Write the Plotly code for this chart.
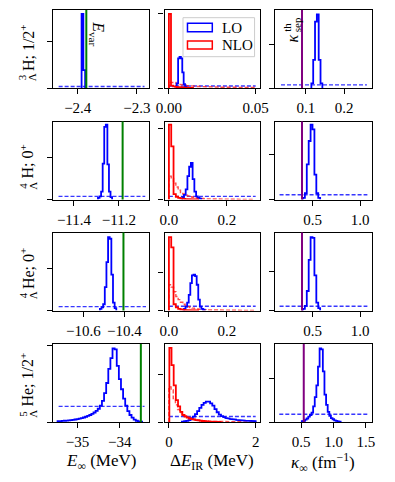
import plotly.graph_objects as go

W, H = 395, 482
FONT = "Liberation Serif"
BLUE = "#0000ff"
RED = "#ff0000"
GREEN = "#008000"
PURPLE = "#800080"
BLUE_D = "rgba(20,20,255,0.85)"
RED_D = "rgba(255,30,30,0.8)"

# ---------------- data ----------------
row_prescript = ["3", "4", "4", "5"]
row_nucleus = ["H; 1/2<sup>+</sup>", "H; 0<sup>+</sup>", "He; 0<sup>+</sup>", "He; 1/2<sup>+</sup>"]

# column 1: E_inf (MeV)
e_lo_start = [-2.3935, -11.293, -10.52, -35.47]
e_lo_width = [0.0030, 0.007, 0.008, 0.05]
e_lo_h = [
    [0.95, 0.23],
    [0.02, 0.04, 0.10, 0.46, 0.93, 0.96, 0.45, 0.10, 0.03],
    [0.02, 0.04, 0.08, 0.30, 0.62, 0.94, 0.92, 0.46, 0.10, 0.03],
    [0.010, 0.012, 0.014, 0.016, 0.018, 0.021, 0.024, 0.028, 0.032, 0.037,
     0.043, 0.050, 0.058, 0.067, 0.078, 0.090, 0.105, 0.122, 0.142, 0.170,
     0.210, 0.270, 0.370, 0.500, 0.680, 0.820, 0.945, 0.930, 0.720, 0.550,
     0.420, 0.300, 0.210, 0.140, 0.090, 0.055, 0.030, 0.016, 0.008, 0.004],
]
e_var = [-2.3855, -11.183, -10.405, -33.50]
e_prior_lo = [-2.4323, -11.469, -10.721, -35.445]
e_prior_hi = [-2.2871, -11.082, -10.295, -33.413]
e_prior_level = [0.02, 0.04, 0.05, 0.20]
e_ticks = [[-2.4, -2.3], [-11.4, -11.2], [-10.6, -10.4], [-35, -34]]
e_ticktext = [["\u22122.4", "\u22122.3"], ["\u221211.4", "\u221211.2"],
              ["\u221210.6", "\u221210.4"], ["\u221235", "\u221234"]]
e_range = [[-2.442, -2.279], [-11.494, -11.064], [-10.749, -10.279], [-35.58, -33.30]]

# column 2: Delta E_IR (MeV)
d_lo_start = [0.0045, 0.046, 0.052, 0.30]
d_lo_width = [0.0008, 0.006, 0.0055, 0.05]
d_lo_h = [
    [0.06, 0.38, 0.40, 0.38, 0.20, 0.05, 0.02],
    [0.03, 0.06, 0.13, 0.30, 0.42, 0.47, 0.26, 0.10, 0.04, 0.02, 0.01],
    [0.02, 0.05, 0.10, 0.20, 0.35, 0.45, 0.46, 0.44, 0.33, 0.14, 0.05, 0.02, 0.01],
    [0.005, 0.010, 0.015, 0.025, 0.045, 0.070, 0.100, 0.140, 0.180, 0.220,
     0.245, 0.260, 0.260, 0.240, 0.210, 0.165, 0.125, 0.095, 0.075, 0.062,
     0.052, 0.045, 0.040, 0.035, 0.031, 0.027, 0.023, 0.020, 0.018, 0.016,
     0.014, 0.013, 0.012, 0.011],
]
d_nlo_start = [0.0, 0.0, 0.0, 0.01]
d_nlo_width = [0.0012, 0.008, 0.008, 0.05]
d_nlo_h = [
    [0.95, 0.03, 0.02, 0.015, 0.012, 0.010, 0.008, 0.006, 0.005, 0.004, 0.003, 0.002],
    [0.96, 0.68, 0.07, 0.035, 0.020, 0.012, 0.008, 0.005, 0.004, 0.003, 0.002, 0.002, 0.001],
    [0.94, 0.81, 0.08, 0.040, 0.022, 0.013, 0.008, 0.005, 0.004, 0.003, 0.002, 0.002, 0.001],
    [0.95, 0.73, 0.47, 0.28, 0.20, 0.13, 0.09, 0.07, 0.055, 0.045, 0.038, 0.030,
     0.025, 0.020, 0.016, 0.013, 0.010, 0.008, 0.006, 0.005, 0.004, 0.003, 0.002, 0.002],
]
d_nlo_prior_width = [0.002, 0.008, 0.008, 0.05]
d_nlo_prior_h = [
    [0.07, 0.07, 0.055, 0.045, 0.038, 0.032, 0.027, 0.023, 0.020, 0.018, 0.016, 0.014,
     0.013, 0.012, 0.011, 0.010, 0.010, 0.009, 0.009, 0.008, 0.008, 0.008, 0.007, 0.007, 0.007],
    [0.30, 0.27, 0.21, 0.16, 0.12, 0.09, 0.07, 0.055, 0.045, 0.035, 0.028, 0.022,
     0.018, 0.015, 0.012, 0.010, 0.008, 0.007, 0.006, 0.005, 0.004, 0.004, 0.003,
     0.003, 0.002, 0.002, 0.002, 0.002, 0.001, 0.001, 0.001, 0.001, 0.001, 0.001,
     0.001, 0.001, 0.001],
    [0.33, 0.30, 0.24, 0.18, 0.14, 0.105, 0.08, 0.062, 0.048, 0.038, 0.030, 0.024,
     0.019, 0.015, 0.012, 0.010, 0.008, 0.007, 0.006, 0.005, 0.004, 0.004, 0.003,
     0.003, 0.002, 0.002, 0.002, 0.002, 0.001, 0.001, 0.001, 0.001, 0.001, 0.001,
     0.001, 0.001, 0.001],
    [0.45, 0.41, 0.30, 0.22, 0.16, 0.12, 0.10, 0.08, 0.065, 0.055, 0.045, 0.038,
     0.032, 0.027, 0.022, 0.018, 0.015, 0.012, 0.010, 0.008, 0.007, 0.006, 0.005,
     0.004, 0.004, 0.003, 0.003, 0.003, 0.002, 0.002, 0.002, 0.002, 0.001, 0.001,
     0.001, 0.001, 0.001, 0.001, 0.001, 0.001],
]
d_lo_prior_hi = [0.05, 0.30, 0.30, 2.0]
d_lo_prior_level = [0.025, 0.04, 0.055, 0.07]
d_ticks = [[0, 0.05], [0, 0.2], [0, 0.2], [0, 2]]
d_ticktext = [["0.00", "0.05"], ["0.0", "0.2"], ["0.0", "0.2"], ["0", "2"]]
d_range = [[-0.0025, 0.0525], [-0.015, 0.315], [-0.015, 0.315], [-0.1, 2.1]]

# column 3: kappa_inf (fm^-1)
k_lo_start = [0.1145, 0.40, 0.40, 0.51]
k_lo_width = [0.0048, 0.02, 0.02, 0.025]
k_lo_h = [
    [0.06, 0.36, 0.85, 0.945, 0.36, 0.06],
    [0.02, 0.08, 0.45, 0.75, 0.96, 0.90, 0.32, 0.08, 0.02],
    [0.02, 0.06, 0.25, 0.65, 0.94, 0.93, 0.45, 0.10, 0.03],
    [0.010, 0.015, 0.030, 0.045, 0.070, 0.090, 0.120, 0.200, 0.320, 0.470,
     0.710, 0.944, 0.930, 0.650, 0.350, 0.220, 0.130, 0.080, 0.050, 0.035,
     0.022, 0.014, 0.008, 0.005],
]
k_sep = [0.09, 0.39, 0.39, 0.54]
k_prior_lo = [0.035, 0.155, 0.155, 0.162]
k_prior_hi = [0.26, 1.075, 1.075, 1.544]
k_prior_level = [0.04, 0.06, 0.055, 0.10]
k_ticks = [[0.1, 0.2], [0.5, 1.0], [0.5, 1.0], [0.5, 1.0, 1.5]]
k_ticktext = [["0.1", "0.2"], ["0.5", "1.0"], ["0.5", "1.0"], ["0.5", "1.0", "1.5"]]
k_range = [[0.02, 0.2725], [0.11, 1.12], [0.11, 1.12], [0.10, 1.59]]

# y tick marks (unlabelled), as fraction of the panel height
y_tick = [[0.60, 0.96, 0.56], [0.54, 0.91, 0.58], [0.54, 0.49, 0.50], [0.98, 0.61, 0.56]]

# ---------------- layout geometry (pixels) ----------------
col_px = [(46, 147), (163, 263), (279, 380)]
row_px = [(10, 88), (121.5, 199.5), (232.5, 310.5), (344, 422)]


def px(x):
    return x / W


def py(y):
    return 1 - y / H


def step_xy(start, width, heights):
    edges = [start + width * i for i in range(len(heights) + 1)]
    xs, ys = [edges[0]], [0]
    for i, h in enumerate(heights):
        xs += [edges[i], edges[i + 1]]
        ys += [h, h]
    xs.append(edges[-1])
    ys.append(0)
    return xs, ys


fig = go.Figure()
shapes = []
annotations = []
axis_common = dict(showline=True, linecolor="black", linewidth=1.2, mirror=True,
                   showgrid=False, zeroline=False, ticks="outside", ticklen=5,
                   tickwidth=1.1, tickcolor="black", fixedrange=True)

for r in range(4):
    for c in range(3):
        n = r * 3 + c + 1
        xa = "x" if n == 1 else f"x{n}"
        ya = "y" if n == 1 else f"y{n}"
        x0, x1 = col_px[c]
        y0, y1 = row_px[r]
        if c == 0:
            rng, tv, tt = e_range[r], e_ticks[r], e_ticktext[r]
        elif c == 1:
            rng, tv, tt = d_range[r], d_ticks[r], d_ticktext[r]
        else:
            rng, tv, tt = k_range[r], k_ticks[r], k_ticktext[r]
        fig.layout[f"xaxis{'' if n == 1 else n}"] = dict(
            domain=[px(x0), px(x1)], anchor=ya, range=rng, tickvals=tv, ticktext=tt,
            ticklabelstandoff=1,
            tickfont=dict(family=FONT, size=15, color="black"), **axis_common)
        fig.layout[f"yaxis{'' if n == 1 else n}"] = dict(
            domain=[py(y1), py(y0)], anchor=xa, range=[0, 1],
            tickvals=[0, y_tick[r][c]], showticklabels=False, **axis_common)

        def add(xs, ys, color, width, dash=None):
            fig.add_trace(go.Scatter(x=xs, y=ys, mode="lines", xaxis=xa, yaxis=ya,
                                     line=dict(color=color, width=width, dash=dash),
                                     showlegend=False, hoverinfo="skip"))

        if c == 0:
            add([e_prior_lo[r], e_prior_hi[r]], [e_prior_level[r]] * 2, BLUE_D, 1.4, "4px,2px")
            xs, ys = step_xy(e_lo_start[r], e_lo_width[r], e_lo_h[r])
            add(xs, ys, BLUE, 1.8)
            shapes.append(dict(type="line", xref=xa, yref=f"{ya} domain", x0=e_var[r], x1=e_var[r],
                               y0=0, y1=1, line=dict(color=GREEN, width=2)))
        elif c == 1:
            add([0, d_lo_prior_hi[r]], [d_lo_prior_level[r]] * 2, BLUE_D, 1.4, "4px,2px")
            xs, ys = step_xy(0.0, d_nlo_prior_width[r], d_nlo_prior_h[r])
            add(xs, ys, RED_D, 1.4, "4px,2px")
            xs, ys = step_xy(d_lo_start[r], d_lo_width[r], d_lo_h[r])
            add(xs, ys, BLUE, 1.8)
            xs, ys = step_xy(d_nlo_start[r], d_nlo_width[r], d_nlo_h[r])
            add(xs, ys, RED, 1.8)
        else:
            add([k_prior_lo[r], k_prior_hi[r]], [k_prior_level[r]] * 2, BLUE_D, 1.4, "4px,2px")
            xs, ys = step_xy(k_lo_start[r], k_lo_width[r], k_lo_h[r])
            add(xs, ys, BLUE, 1.8)
            shapes.append(dict(type="line", xref=xa, yref=f"{ya} domain", x0=k_sep[r], x1=k_sep[r],
                               y0=0, y1=1, line=dict(color=PURPLE, width=2)))

# row labels (rotated, with stacked pre-scripts)
pre_y = [77.5, 186, 295.5, 414]
main_bottom = [73, 181, 291, 409]
for r in range(4):
    annotations.append(dict(text=row_nucleus[r], x=px(31), y=py(main_bottom[r]), xref="paper",
                            yref="paper", xanchor="right", yanchor="bottom", textangle=-90,
                            showarrow=False, font=dict(family=FONT, size=16, color="black")))
    annotations.append(dict(text=row_prescript[r], x=px(14.5), y=py(pre_y[r]), xref="paper",
                            yref="paper", xanchor="center", yanchor="middle", textangle=-90,
                            showarrow=False, font=dict(family=FONT, size=11, color="black")))
    annotations.append(dict(text="\u039b", x=px(25), y=py(pre_y[r]), xref="paper",
                            yref="paper", xanchor="center", yanchor="middle", textangle=-90,
                            showarrow=False, font=dict(family=FONT, size=11, color="black")))

# in-panel labels
annotations.append(dict(text="<i>E</i><sub>var</sub>", x=px(92), y=py(34), xref="paper", yref="paper",
                        textangle=90, showarrow=False, xanchor="center", yanchor="middle",
                        font=dict(family=FONT, size=16, color="black")))
annotations.append(dict(text="<i>\u03ba</i>", x=px(298), y=py(38), xref="paper", yref="paper",
                        textangle=-90, showarrow=False, xanchor="center", yanchor="middle",
                        font=dict(family=FONT, size=16, color="black")))
annotations.append(dict(text="th", x=px(291), y=py(27), xref="paper", yref="paper",
                        textangle=-90, showarrow=False, xanchor="center", yanchor="middle",
                        font=dict(family=FONT, size=11, color="black")))
annotations.append(dict(text="sep", x=px(302), y=py(25), xref="paper", yref="paper",
                        textangle=-90, showarrow=False, xanchor="center", yanchor="middle",
                        font=dict(family=FONT, size=11, color="black")))

# x-axis titles
xt = ["<i>E</i><sub>\u221e</sub> (MeV)", "\u0394<i>E</i><sub>IR</sub> (MeV)",
      "<i>\u03ba</i><sub>\u221e</sub> (fm<sup>\u22121</sup>)"]
for c in range(3):
    annotations.append(dict(text=xt[c], x=px(sum(col_px[c]) / 2), y=py(462), xref="paper", yref="paper",
                            showarrow=False, xanchor="center", yanchor="middle",
                            font=dict(family=FONT, size=17, color="black")))

# legend (drawn as patches in the first-row middle panel)
shapes.append(dict(type="rect", xref="paper", yref="paper", x0=px(182.3), x1=px(257.3),
                   y0=py(56.7), y1=py(17.7), line=dict(color="#cccccc", width=1),
                   fillcolor="rgba(255,255,255,0.8)"))
leg_names = ["LO", "NLO"]
leg_colors = [BLUE, RED]
leg_y = [(23.3, 31.7), (41, 49)]
for i in range(2):
    shapes.append(dict(type="rect", xref="paper", yref="paper", x0=px(187), x1=px(213),
                       y0=py(leg_y[i][1]), y1=py(leg_y[i][0]),
                       line=dict(color=leg_colors[i], width=1.5), fillcolor="rgba(0,0,0,0)"))
    annotations.append(dict(text=leg_names[i], x=px(221), y=py(sum(leg_y[i]) / 2), xref="paper",
                            yref="paper", xanchor="left", yanchor="middle", showarrow=False,
                            font=dict(family=FONT, size=15, color="black")))

fig.update_layout(width=W, height=H, autosize=False, margin=dict(l=0, r=0, t=0, b=0),
                  paper_bgcolor="white", plot_bgcolor="white", showlegend=False,
                  shapes=shapes, annotations=annotations,
                  font=dict(family=FONT, size=14, color="black"))

fig.write_html("out.html", config={"displayModeBar": False},
               post_script="document.body.style.margin='0';")
